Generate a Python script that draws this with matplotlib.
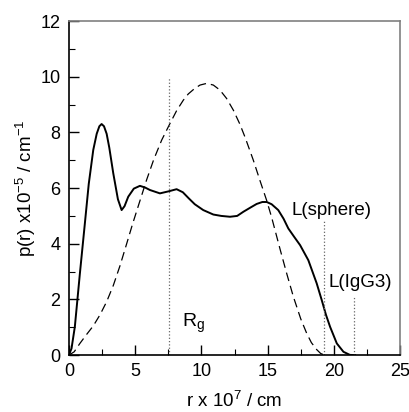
import matplotlib
matplotlib.use('Agg')
import matplotlib.pyplot as plt
from matplotlib.ticker import MultipleLocator

plt.rcParams['font.family'] = ['Liberation Sans', 'DejaVu Sans']

# p(r) of IgG3 (solid)
r_igg = [0.0, 0.2, 0.45, 0.83, 1.2, 1.5, 1.84, 2.1, 2.3, 2.47, 2.65, 2.85, 3.05, 3.35, 3.7, 3.98,
         4.2, 4.48, 4.9, 5.36, 5.75, 6.12, 6.87, 7.5, 8.13, 8.6, 9.05, 9.5, 10.14, 10.9,
         11.5, 12.16, 12.7, 13.17, 13.7, 14.17, 14.6, 14.93, 15.3, 15.8, 16.2, 16.56,
         17.0, 17.45, 18.07, 18.7, 19.08, 19.4, 19.71, 20.22, 20.72, 21.2, 21.6]
p_igg = [0.0, 0.24, 1.02, 2.93, 4.7, 6.15, 7.37, 7.95, 8.22, 8.3, 8.22, 7.95, 7.45, 6.53, 5.6, 5.21,
         5.35, 5.69, 5.98, 6.08, 6.02, 5.93, 5.81, 5.88, 5.96, 5.85, 5.63, 5.42, 5.21, 5.05,
         5.0, 4.97, 5.0, 5.15, 5.3, 5.43, 5.5, 5.5, 5.42, 5.21, 4.9, 4.55,
         4.25, 3.95, 3.41, 2.58, 1.98, 1.45, 1.02, 0.42, 0.12, 0.01, 0.0]

# p(r) of the equivalent sphere (dashed)
r_sph = [0.0, 0.4, 0.83, 1.3, 1.84, 2.35, 2.85, 3.35, 3.85, 4.36, 4.8, 5.3, 5.87, 6.4, 7.0,
         7.63, 8.13, 8.64, 9.01, 9.5, 9.9, 10.4, 10.9, 11.4, 11.9, 12.41, 12.9, 13.3, 13.92,
         14.4, 14.93, 15.3, 15.69, 15.94, 16.44, 16.94, 17.5, 17.95, 18.3, 18.7, 19.0, 19.3]
p_sph = [0.0, 0.12, 0.42, 0.72, 1.05, 1.45, 1.92, 2.5, 3.2, 4.0, 4.7, 5.45, 6.3, 7.02, 7.72,
         8.32, 8.78, 9.16, 9.38, 9.58, 9.7, 9.76, 9.7, 9.52, 9.22, 8.8, 8.3, 7.82, 7.0,
         6.3, 5.55, 4.95, 4.25, 3.8, 2.93, 2.1, 1.3, 0.78, 0.45, 0.2, 0.06, 0.0]

# vertical markers: (x, top)
marks_x = [7.55, 19.26, 21.55]
marks_top = [10.0, 4.8, 2.1]

fig = plt.figure(figsize=(4.1, 4.12), dpi=100)
ax = fig.add_axes([0.168, 0.138, 0.808, 0.811])

ax.plot(r_igg, p_igg, color='black', lw=1.4)
ax.plot(r_sph, p_sph, color='black', lw=0.9, dashes=(7, 4))
for x, top in zip(marks_x, marks_top):
    ax.plot([x, x], [0, top], color='#666666', lw=0.9, ls=':')

ax.text(8.5, 1.15, r'R$_\mathregular{g}$', fontsize=14, va='center')
ax.text(16.8, 5.2, 'L(sphere)', fontsize=13.5, va='center')
ax.text(19.57, 2.6, 'L(IgG3)', fontsize=13.5, va='center')

ax.set_xlim(0, 25)
ax.set_ylim(0, 12)
ax.xaxis.set_major_locator(MultipleLocator(5))
ax.xaxis.set_minor_locator(MultipleLocator(2.5))
ax.yaxis.set_major_locator(MultipleLocator(2))
ax.yaxis.set_minor_locator(MultipleLocator(1))
ax.tick_params(which='both', direction='in', labelsize=13, pad=6)
ax.tick_params(which='major', length=7, width=1)
ax.tick_params(which='minor', length=4, width=0.8)
for s in ['top', 'right']:
    ax.spines[s].set_color('#808080')
    ax.spines[s].set_linewidth(1.2)
for s in ['left', 'bottom']:
    ax.spines[s].set_linewidth(1.2)

ax.set_xlabel(r'r x 10$^\mathregular{7}$ / cm', fontsize=13.5, labelpad=7)
ax.set_ylabel(r'p(r) x10$^\mathregular{-5}$ / cm$^\mathregular{-1}$', fontsize=13.5, labelpad=2)

fig.savefig('out.png', dpi=100)
